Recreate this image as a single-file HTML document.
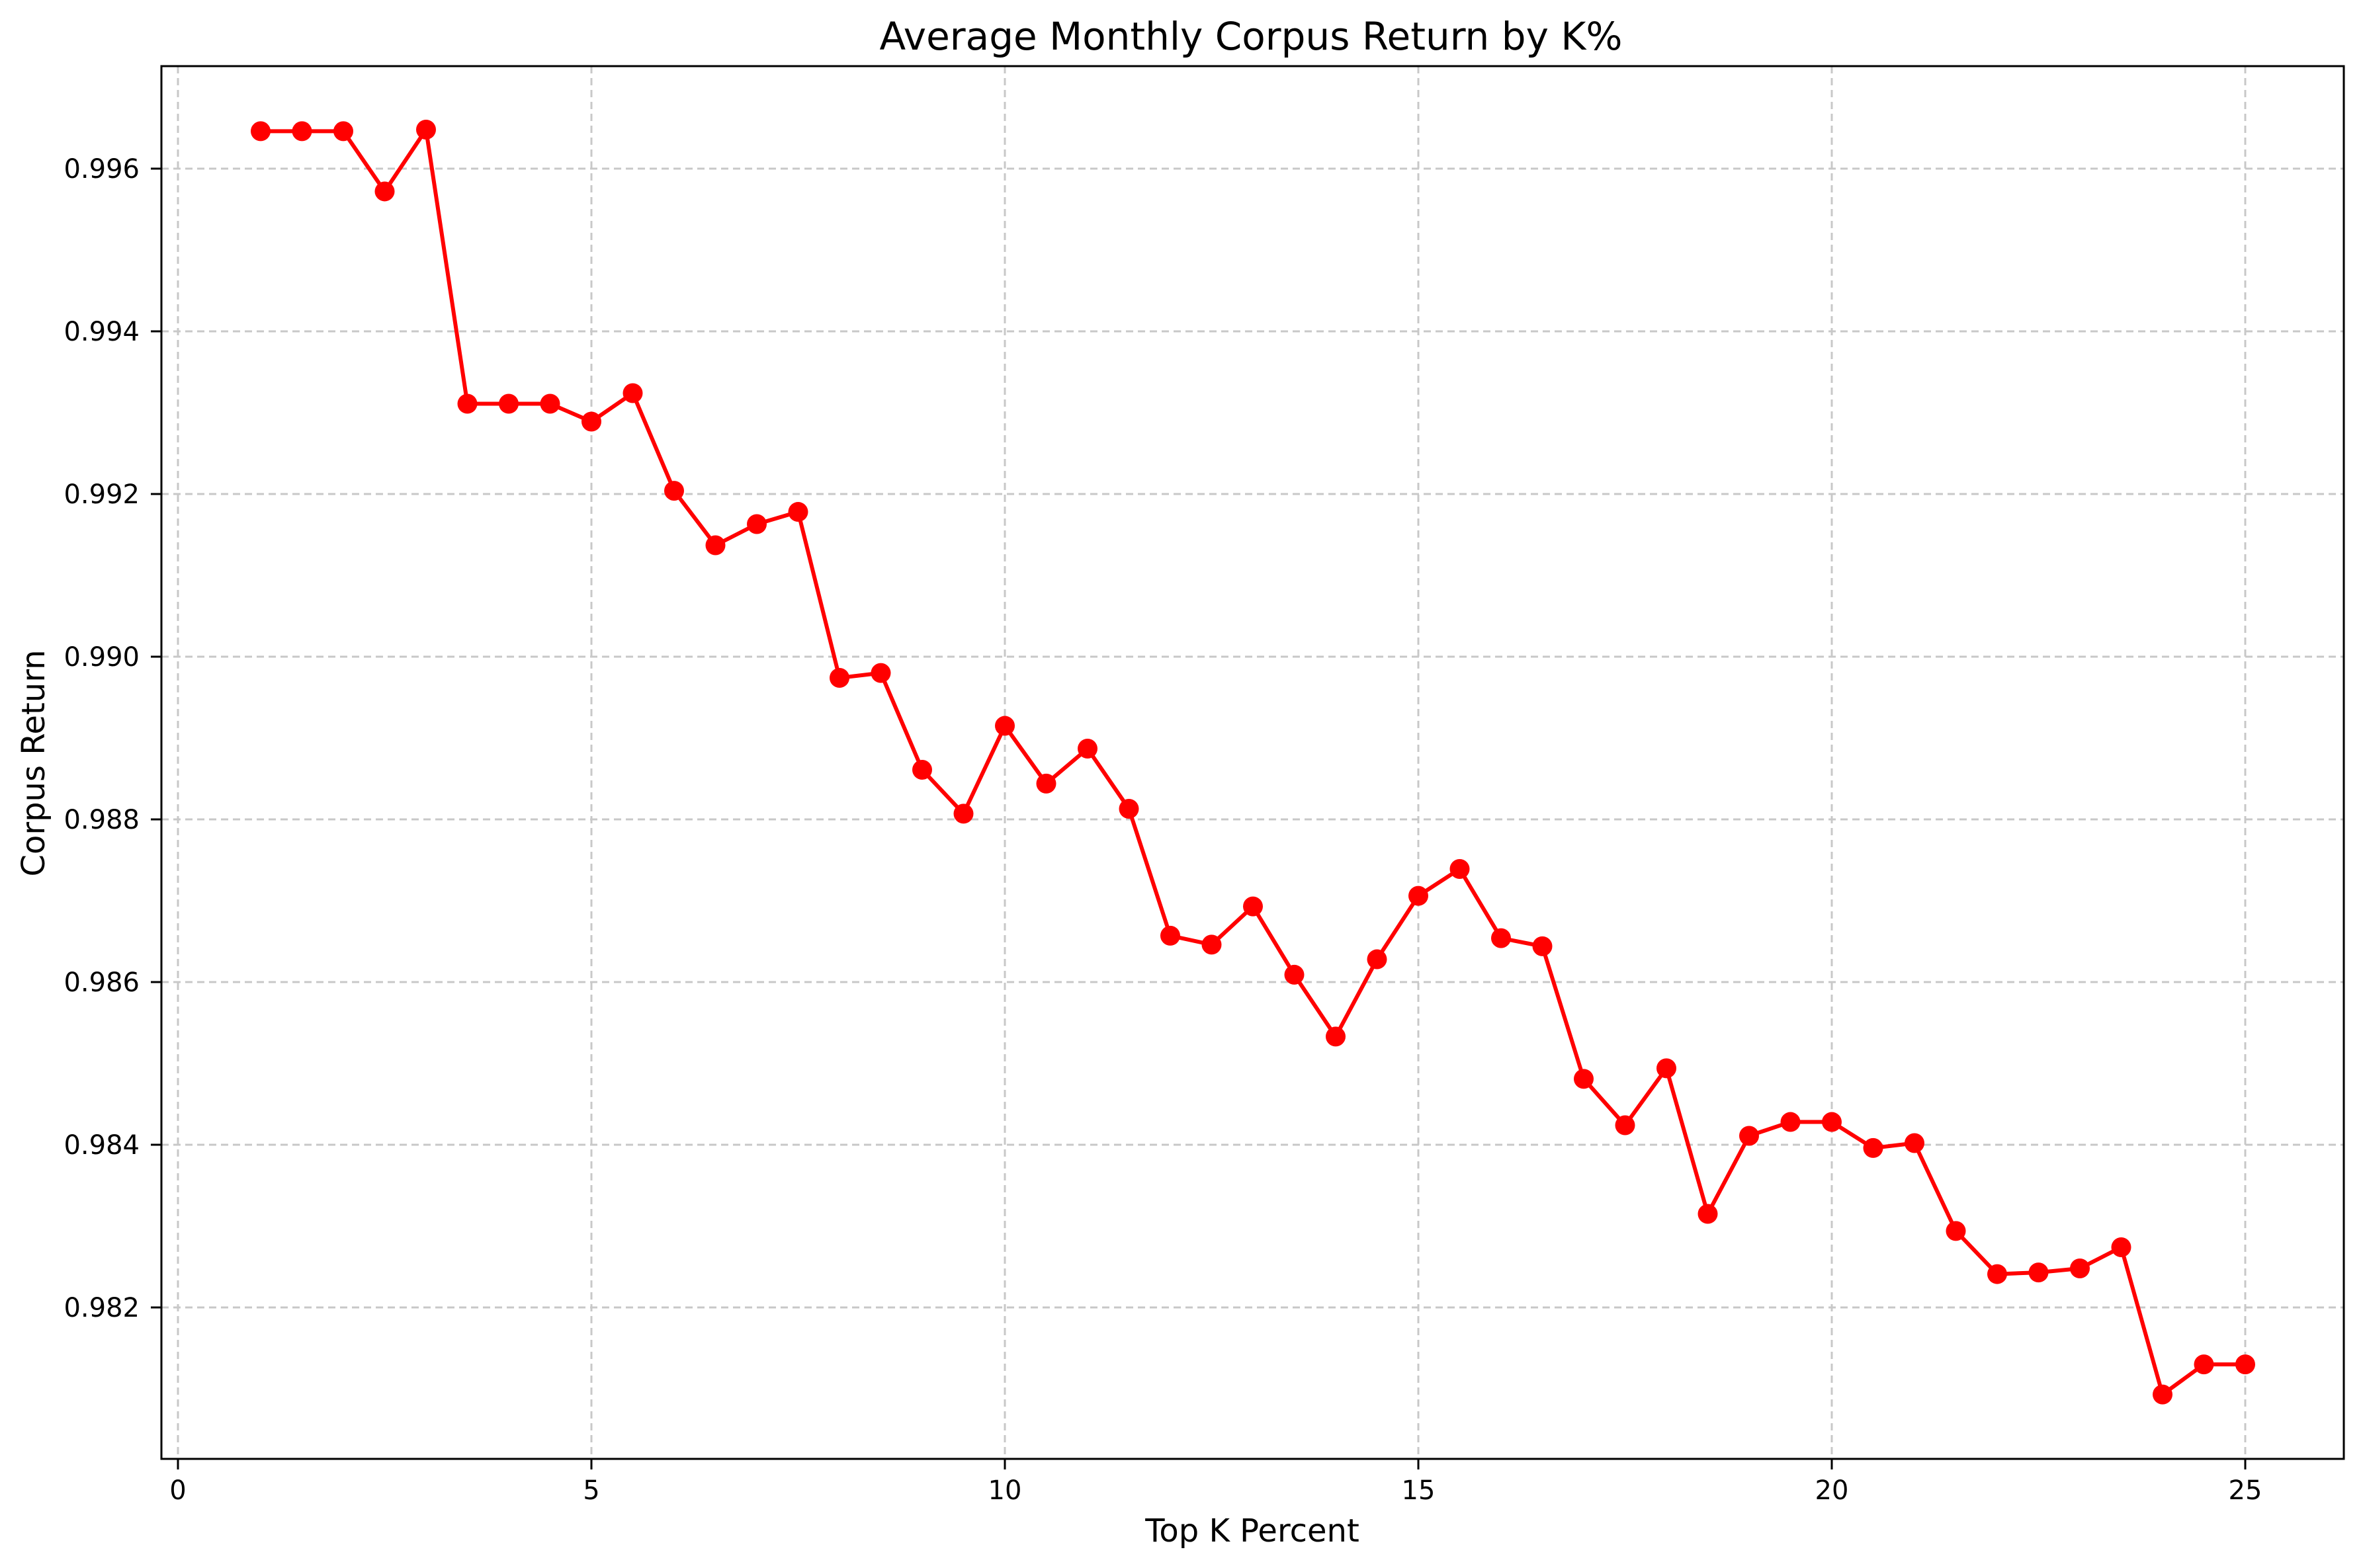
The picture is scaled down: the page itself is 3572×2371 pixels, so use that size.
<!DOCTYPE html>
<html><head><meta charset="utf-8"><style>
body{margin:0;background:#fff}
svg{display:block;font-family:"DejaVu Sans","Liberation Sans",sans-serif}
</style></head><body>
<svg id="chart" width="3572" height="2371" viewBox="0 0 3572 2371">
<rect width="3572" height="2371" fill="#fff"/>
<g id="grid"></g>
<g id="ticks"></g>
<g id="series"></g>
<rect x="244" y="100" width="3299" height="2106" fill="none" stroke="#000" stroke-width="3"/>
<text x="1891" y="75" font-size="58" text-anchor="middle">Average Monthly Corpus Return by K%</text>
<text x="1893" y="2331" font-size="48" text-anchor="middle">Top K Percent</text>
<text x="0" y="0" font-size="48" text-anchor="middle" transform="translate(67,1154) rotate(-90)">Corpus Return</text>
</svg>
<script>
const kValues=[1,1.5,2,2.5,3,3.5,4,4.5,5,5.5,6,6.5,7,7.5,8,8.5,9,9.5,10,10.5,11,11.5,12,12.5,13,13.5,14,14.5,15,15.5,16,16.5,17,17.5,18,18.5,19,19.5,20,20.5,21,21.5,22,22.5,23,23.5,24,24.5,25];
const returns=[0.99646,0.99646,0.99646,0.99572,0.99648,0.99311,0.99311,0.99311,0.99289,0.99324,0.99204,0.99137,0.99163,0.99178,0.98974,0.98980,0.98861,0.98807,0.98915,0.98844,0.98887,0.98813,0.98657,0.98646,0.98693,0.98609,0.98533,0.98628,0.98706,0.98739,0.98654,0.98644,0.98481,0.98424,0.98494,0.98315,0.98411,0.98428,0.98428,0.98396,0.98402,0.98294,0.98241,0.98243,0.98248,0.98274,0.98093,0.98130,0.98130];
const xTicks=[0,5,10,15,20,25];
const yTicks=[0.982,0.984,0.986,0.988,0.990,0.992,0.994,0.996];
const NS="http://www.w3.org/2000/svg";
function xs(k){return 269+k*125;}
function ys(v){return 255+(0.996-v)*123000;}
function mk(tag,attrs,parent){const e=document.createElementNS(NS,tag);for(const a in attrs)e.setAttribute(a,attrs[a]);parent.appendChild(e);return e;}
const grid=document.getElementById('grid'),ticks=document.getElementById('ticks'),series=document.getElementById('series');
xTicks.forEach(t=>{
  const x=xs(t);
  const g=mk('line',{x1:x,x2:x,y1:100,y2:2206,stroke:'#c8c8c8','stroke-width':3,'stroke-dasharray':'11,7'},grid);
  
  
  const tk=mk('line',{x1:x,x2:x,y1:2206,y2:2222,stroke:'#000','stroke-width':3},ticks);
  
  
  const tx=mk('text',{x:x,y:2267,'font-size':40,'text-anchor':'middle'},ticks);
  tx.textContent=String(t);
  
  
});
yTicks.forEach(t=>{
  const y=ys(t);
  const g=mk('line',{x1:244,x2:3543,y1:y,y2:y,stroke:'#c8c8c8','stroke-width':3,'stroke-dasharray':'11,7'},grid);
  
  
  const tk=mk('line',{x1:228,x2:244,y1:y,y2:y,stroke:'#000','stroke-width':3},ticks);
  
  
  const tx=mk('text',{x:211,y:y+14,'font-size':40,'text-anchor':'end'},ticks);
  tx.textContent=t.toFixed(3);
  
  
});
const pts=kValues.map((k,i)=>xs(k)+','+ys(returns[i])).join(' ');
const pl=mk('polyline',{points:pts,fill:'none',stroke:'#ff0000','stroke-width':6,'stroke-linejoin':'round'},series);


kValues.forEach((k,i)=>{
  const c=mk('circle',{cx:xs(k),cy:ys(returns[i]),r:15,fill:'#ff0000'},series);
  
  
});
</script>
</body></html>
